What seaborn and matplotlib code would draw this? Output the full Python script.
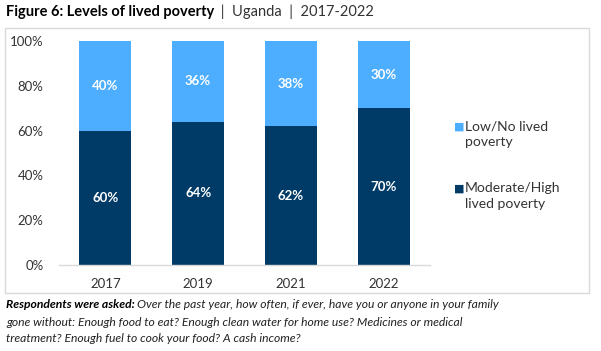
import matplotlib
matplotlib.use("Agg")
import matplotlib.pyplot as plt
import seaborn as sns
import pandas as pd
from matplotlib.patches import Rectangle

years = ["2017", "2019", "2021", "2022"]
moderate_high = [60, 64, 62, 70]
low_no = [40, 36, 38, 30]
y_ticks = [0, 20, 40, 60, 80, 100]
legend_labels = ["Low/No lived\npoverty", "Moderate/High\nlived poverty"]

LIGHT = "#4DAEFF"
DARK = "#003A66"

sns.set_theme(style="white")
plt.rcParams["font.family"] = ["Lato", "DejaVu Sans"]

fig = plt.figure(figsize=(6.01, 3.51), dpi=100)
ax = fig.add_axes([59/601, 1-265/351, (430-59)/601, (265-41)/351])

df = pd.DataFrame({"year": years, "mh": moderate_high, "ln": low_no})
df["total"] = df["mh"] + df["ln"]

sns.barplot(data=df, x="year", y="total", color=LIGHT, width=0.56, ax=ax,
            saturation=1, edgecolor="none")
sns.barplot(data=df, x="year", y="mh", color=DARK, width=0.56, ax=ax,
            saturation=1, edgecolor="none")

for i in range(len(years)):
    ax.text(i, moderate_high[i] / 2, f"{moderate_high[i]}%", ha="center", va="center",
            color="white", fontsize=9.5, fontweight="bold")
    ax.text(i, moderate_high[i] + low_no[i] / 2, f"{low_no[i]}%", ha="center", va="center",
            color="white", fontsize=9.5, fontweight="bold")

ax.set_xlim(-0.5, len(years) - 0.5)
ax.set_ylim(0, 100)
ax.set_yticks(y_ticks)
ax.set_yticklabels([f"{t}%" for t in y_ticks], fontsize=9.5, color="#333333")
ax.tick_params(axis="x", labelsize=9.5, colors="#333333", length=0, pad=9)
ax.tick_params(axis="y", length=0, pad=11)
ax.set_xlabel("")
ax.set_ylabel("")
for s in ["top", "right", "left"]:
    ax.spines[s].set_visible(False)
ax.spines["bottom"].set_color("#D9D9D9")
ax.spines["bottom"].set_linewidth(1)

# Legend
fig.text(454/601, 1-126/351, "■", color=LIGHT, fontsize=8, va="center", ha="left")
fig.text(465/601, 1-134/351, legend_labels[0], fontsize=10, color="#333333",
         va="center", ha="left", linespacing=1.35)
fig.text(454/601, 1-188/351, "■", color=DARK, fontsize=8, va="center", ha="left")
fig.text(465/601, 1-196/351, legend_labels[1], fontsize=10, color="#333333",
         va="center", ha="left", linespacing=1.35)

# Frame
fig.add_artist(Rectangle((5/601, 1-293/351), (589-5)/601, (293-28)/351,
                         transform=fig.transFigure, fill=False,
                         edgecolor="#D9D9D9", linewidth=1))

# Title
t1 = fig.text(6/601, 1-12/351, "Figure 6: Levels of lived poverty", fontsize=10.5,
              fontweight="bold", color="black", va="center", ha="left")
fig.canvas.draw()
bb = t1.get_window_extent()
fig.text(bb.x1 / 601 + 0.004, 1-12/351, " |  Uganda  |  2017-2022", fontsize=10.5,
         color="#333333", va="center", ha="left")

# Footnote
FS = 8.7
t2 = fig.text(6/601, 1-305/351, "Respondents were asked:", fontsize=FS, fontweight="bold",
              style="italic", color="black", va="center", ha="left")
fig.canvas.draw()
bb2 = t2.get_window_extent()
fig.text(bb2.x1 / 601 + 0.004, 1-305/351,
         "Over the past year, how often, if ever, have you or anyone in your family",
         fontsize=FS, style="italic", color="#222222", va="center", ha="left")
fig.text(6/601, 1-322/351,
         "gone without: Enough food to eat? Enough clean water for home use? Medicines or medical",
         fontsize=FS, style="italic", color="#222222", va="center", ha="left")
fig.text(6/601, 1-339/351,
         "treatment? Enough fuel to cook your food? A cash income?",
         fontsize=FS, style="italic", color="#222222", va="center", ha="left")

fig.savefig("out.png", dpi=100)
